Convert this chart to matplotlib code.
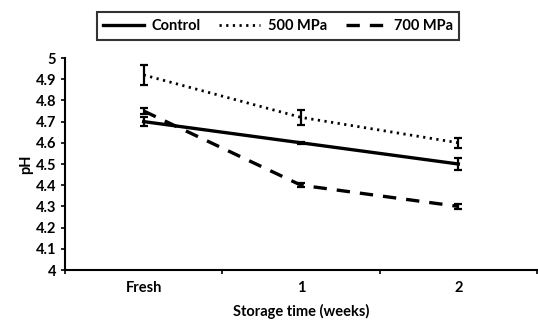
import matplotlib
matplotlib.use("Agg")
import matplotlib.pyplot as plt
import numpy as np

categories = ["Fresh", "1", "2"]
control = [4.70, 4.60, 4.50]
control_err = [0.02, 0.005, 0.03]
mpa500 = [4.92, 4.72, 4.60]
mpa500_err = [0.045, 0.035, 0.025]
mpa700 = [4.75, 4.40, 4.30]
mpa700_err = [0.015, 0.01, 0.01]
yticks = [4, 4.1, 4.2, 4.3, 4.4, 4.5, 4.6, 4.7, 4.8, 4.9, 5]

plt.rcParams['font.family'] = ['Lato', 'DejaVu Sans']
plt.rcParams['font.weight'] = 'bold'

fig = plt.figure(figsize=(5.38, 3.23), dpi=100)
ax = fig.add_axes([65/538, 53/323, 472/538, 212/323])

x = np.arange(len(categories)) + 0.5
ekw = dict(ecolor='black', elinewidth=1.6, capsize=3, capthick=1.6)
styles = [('Control', control, control_err, '-', 2.4),
          ('500 MPa', mpa500, mpa500_err, (0, (0.8, 1.6)), 2.0),
          ('700 MPa', mpa700, mpa700_err, (0, (4, 3)), 2.4)]
handles = []
for lab, y, e, ls, lw in styles:
    ax.errorbar(x, y, yerr=e, fmt='none', **ekw)
    h, = ax.plot(x, y, color='black', lw=lw, ls=ls, label=lab)
    handles.append(h)

ax.set_xlim(0, 3)
ax.set_ylim(4, 5)
ax.set_yticks(yticks)
ax.set_yticklabels([f"{v:g}" for v in yticks])
ax.set_xticks([0, 1, 2, 3])
ax.set_xticklabels([])
ax.set_xticks(x, minor=True)
ax.set_xticklabels(categories, minor=True)
ax.tick_params(axis='x', which='minor', length=0, pad=8)
ax.tick_params(axis='both', which='major', direction='out', length=3, width=1.2, labelsize=10.5)
ax.tick_params(axis='x', which='minor', labelsize=10.5)
for s in ['top', 'right']:
    ax.spines[s].set_visible(False)
for s in ['left', 'bottom']:
    ax.spines[s].set_linewidth(1.5)

ax.set_ylabel('pH', fontsize=10.5, fontweight='bold', labelpad=2)
ax.set_xlabel('Storage time (weeks)', fontsize=10.5, fontweight='bold', labelpad=6)

leg = fig.legend(handles, [h.get_label() for h in handles], loc='center',
                 bbox_to_anchor=(278/538, 1 - 26/323), ncol=3,
                 frameon=True, fancybox=False, edgecolor='black', fontsize=10.5,
                 handlelength=2.8, handletextpad=0.5, columnspacing=1.3, borderpad=0.45)
leg.get_frame().set_linewidth(1.5)

fig.savefig('out.png', dpi=100)
